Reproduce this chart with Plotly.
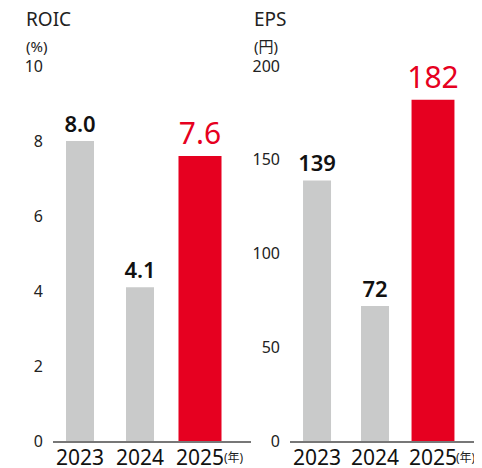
import plotly.graph_objects as go

years = ["2023", "2024", "2025"]
roic = [8.0, 4.1, 7.6]
eps = [139, 72, 182]
roic_labels = ["8.0", "4.1", "7.6"]
eps_labels = ["139", "72", "182"]
roic_ticks = [0, 2, 4, 6, 8, 10]
eps_ticks = [0, 50, 100, 150, 200]

GRAY = "#c9caca"
RED = "#e60020"
FONT = "Noto Sans, Noto Sans CJK JP, sans-serif"
colors = [GRAY, GRAY, RED]
tcolors = ["#111111", "#111111", RED]
tsizes = [22, 22, 30]
tweights = [600, 600, 400]

# page body adds an 8px offset; figure coordinates are shifted accordingly
OFF = 8
W, H = 482 - OFF, 468 - OFF
def fx(px):
    return (px - OFF) / W
def fy(py):
    return (H - (py - OFF)) / H

ydom = [fy(441), fy(66)]

fig = go.Figure()
xs = [0, 1, 2]
fig.add_trace(go.Bar(x=xs, y=roic, width=[0.467, 0.467, 0.717], marker=dict(color=colors, line=dict(width=0)),
                     text=roic_labels, textposition="outside", constraintext="none", cliponaxis=False,
                     textfont=dict(color=tcolors, size=tsizes, family=FONT, weight=tweights),
                     xaxis="x", yaxis="y", showlegend=False, hoverinfo="skip"))
fig.add_trace(go.Bar(x=xs, y=eps, width=[0.483, 0.483, 0.74], marker=dict(color=colors, line=dict(width=0)),
                     text=eps_labels, textposition="outside", constraintext="none", cliponaxis=False,
                     textfont=dict(color=tcolors, size=tsizes, family=FONT, weight=tweights),
                     xaxis="x2", yaxis="y2", showlegend=False, hoverinfo="skip"))

axis_line = "#777777"
common_x = dict(tickvals=xs, ticktext=years, showline=True, linecolor=axis_line, linewidth=1.5,
                showgrid=False, zeroline=False, ticks="", automargin=False, ticklabelstandoff=-3,
                tickfont=dict(size=21, color="#111111"))
common_y = dict(domain=ydom, showgrid=False, zeroline=False, showline=False, ticks="",
                automargin=False, tickfont=dict(size=16, color="#222222"), ticklabelstandoff=9)
fig.update_layout(
    template="none",
    width=W, height=H, margin=dict(l=0, r=0, t=0, b=0, autoexpand=False),
    paper_bgcolor="white", plot_bgcolor="white",
    font=dict(family=FONT, color="#222222"),
    xaxis=dict(domain=[fx(53), fx(251)], range=[-0.45, 2.85], anchor="y", **common_x),
    yaxis=dict(range=[0, 10], tickvals=roic_ticks, anchor="x", **common_y),
    xaxis2=dict(domain=[fx(290), 1.0], range=[-0.466, 2.845], anchor="y2", **common_x),
    yaxis2=dict(range=[0, 200], tickvals=eps_ticks, anchor="x2", **common_y),
)

ann = [
    dict(text="ROIC", x=fx(24), y=fy(19), size=19),
    dict(text="(%)", x=fx(24), y=fy(45.5), size=15),
    dict(text="EPS", x=fx(252), y=fy(19), size=19),
    dict(text="(円)", x=fx(252), y=fy(45.5), size=15),
]
for a in ann:
    fig.add_annotation(text=a["text"], x=a["x"], y=a["y"], xref="paper", yref="paper",
                       xanchor="left", yanchor="middle", showarrow=False,
                       font=dict(size=a["size"], color="#222222", family=FONT))
for xr, shift in [("x", 22), ("x2", 21)]:
    fig.add_annotation(text="(年)", x=2, y=fy(457), xref=xr, yref="paper",
                       xanchor="left", yanchor="middle", xshift=shift, showarrow=False,
                       font=dict(size=12, color="#222222", family=FONT))

fig.write_html("out.html")
